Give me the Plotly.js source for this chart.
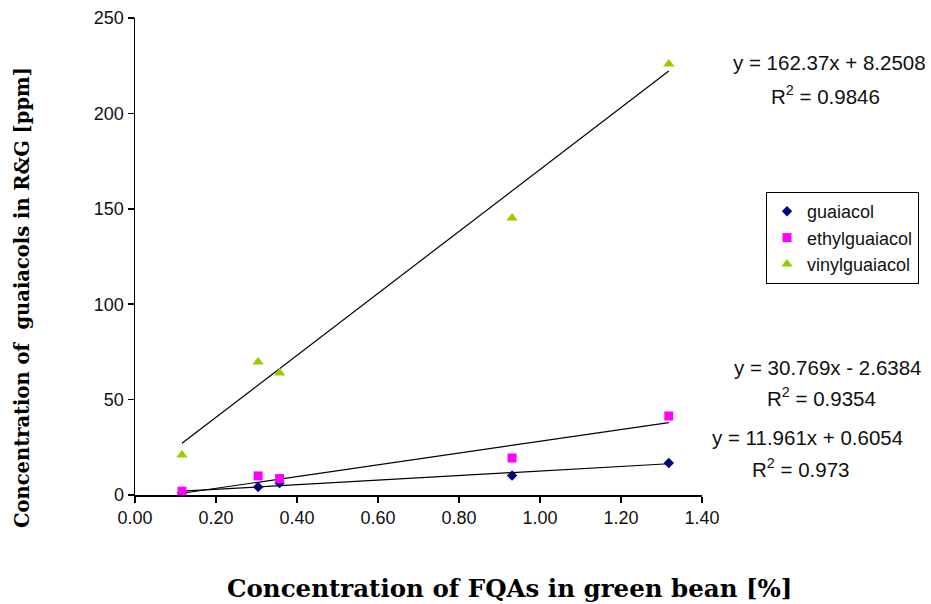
<!DOCTYPE html>
<html>
<head>
<meta charset="utf-8">
<script src="https://cdn.plot.ly/plotly-3.0.1.min.js"></script>
<style>
  html, body { margin: 0; padding: 0; background: #fff; }
  #chart { width: 931px; height: 604px; }
</style>
</head>
<body>
<div id="chart"></div>
<script>
// FQA content in green bean [%] for the five samples
const fqa = [0.116, 0.304, 0.357, 0.931, 1.318];

// Guaiacol concentrations in roasted & ground coffee [ppm]
const guaiacol      = [1.0, 4.2, 6.3, 10.2, 16.8];
const ethylguaiacol = [2.0, 10.0, 8.6, 19.4, 41.4];
const vinylguaiacol = [21.0, 69.7, 63.9, 145.2, 225.9];

const seriesNames = ['guaiacol', 'ethylguaiacol', 'vinylguaiacol'];

// Linear trendline coefficients (slope, intercept) and R² per series
const slopes     = [11.961, 30.769, 162.37];
const intercepts = [0.6054, -2.6384, 8.2508];
const r2Values   = ['0.973', '0.9354', '0.9846'];
const equationLabels = [
  'y = 11.961x + 0.6054',
  'y = 30.769x - 2.6384',
  'y = 162.37x + 8.2508'
];

const xTickVals = [0, 0.2, 0.4, 0.6, 0.8, 1.0, 1.2, 1.4];
const yTickVals = [0, 50, 100, 150, 200, 250];

// ---- styling ----
const colors  = ['#000080', '#FF00FF', '#99CC00'];
const symbols = ['diamond', 'square', 'triangle-up'];
const sizes   = [8, 9, 10];
const values  = [guaiacol, ethylguaiacol, vinylguaiacol];

// plot-area geometry in pixels
const W = 931, H = 604;
const L = 135, R = 702, T = 18, B = 495;
const px = x => (x - L) / (R - L);
const py = y => (B - y) / (B - T);

const traces = [];
const xMin = Math.min(...fqa), xMax = Math.max(...fqa);
for (let i = 0; i < 3; i++) {
  // trendline over the span of the measured samples
  traces.push({
    x: [xMin, xMax],
    y: [slopes[i] * xMin + intercepts[i], slopes[i] * xMax + intercepts[i]],
    mode: 'lines',
    line: { color: '#000', width: 1.2 },
    showlegend: false,
    hoverinfo: 'skip'
  });
}
for (let i = 0; i < 3; i++) {
  traces.push({
    x: fqa,
    y: values[i],
    name: seriesNames[i],
    mode: 'markers',
    marker: { color: colors[i], symbol: symbols[i], size: sizes[i] }
  });
}

const eqFont = { family: 'Liberation Sans, Arial, sans-serif', size: 20.5, color: '#111' };
// [equation x-centre, equation y, R² x-centre, R² y] in pixels
const eqPos = [
  [807, 437, 800, 468],
  [827, 367, 821, 397],
  [829, 63, 825, 95]
];
const annotations = [];
for (let i = 0; i < 3; i++) {
  const p = eqPos[i];
  annotations.push({
    xref: 'paper', yref: 'paper', x: px(p[0]), y: py(p[1]),
    text: equationLabels[i], showarrow: false, font: eqFont,
    xanchor: 'center', yanchor: 'middle'
  });
  annotations.push({
    xref: 'paper', yref: 'paper', x: px(p[2]), y: py(p[3]),
    text: 'R<sup>2</sup> = ' + r2Values[i], showarrow: false, font: eqFont,
    xanchor: 'center', yanchor: 'middle'
  });
}

const serif = 'DejaVu Serif, Georgia, serif';
annotations.push({
  xref: 'paper', yref: 'paper', x: px(509), y: py(588),
  text: '<b>Concentration of FQAs in green bean [%]</b>',
  showarrow: false, font: { family: serif, size: 24.5, color: '#000' },
  xanchor: 'center', yanchor: 'middle'
});
annotations.push({
  xref: 'paper', yref: 'paper', x: px(22), y: py(298),
  text: '<b>Concentration of &nbsp;guaiacols in R&amp;G [ppm]</b>',
  textangle: -90, showarrow: false, font: { family: serif, size: 19.5, color: '#000' },
  xanchor: 'center', yanchor: 'middle'
});

const tickFont = { family: 'Liberation Sans, Arial, sans-serif', size: 18, color: '#111' };

const layout = {
  width: W, height: H,
  margin: { l: L, r: W - R, t: T, b: H - B },
  paper_bgcolor: '#fff', plot_bgcolor: '#fff',
  showlegend: true,
  legend: {
    x: px(766), y: py(192), xanchor: 'left', yanchor: 'top',
    bgcolor: '#fff', bordercolor: '#000', borderwidth: 1,
    font: { family: 'Liberation Sans, Arial, sans-serif', size: 18, color: '#111' },
    tracegroupgap: 0, itemwidth: 30
  },
  xaxis: {
    range: [0, 1.4], tickvals: xTickVals, tickformat: '.2f',
    showline: true, linecolor: '#000', linewidth: 1.5,
    ticks: 'outside', ticklen: 6, tickcolor: '#000', tickwidth: 1.5,
    showgrid: false, zeroline: false, tickfont: tickFont
  },
  yaxis: {
    range: [0, 250], tickvals: yTickVals,
    showline: true, linecolor: '#000', linewidth: 1.5,
    ticks: 'outside', ticklen: 6, tickcolor: '#000', tickwidth: 1.5,
    showgrid: false, zeroline: false, tickfont: tickFont
  },
  annotations: annotations
};

Plotly.newPlot('chart', traces, layout, { displayModeBar: false, staticPlot: true });
</script>
</body>
</html>
